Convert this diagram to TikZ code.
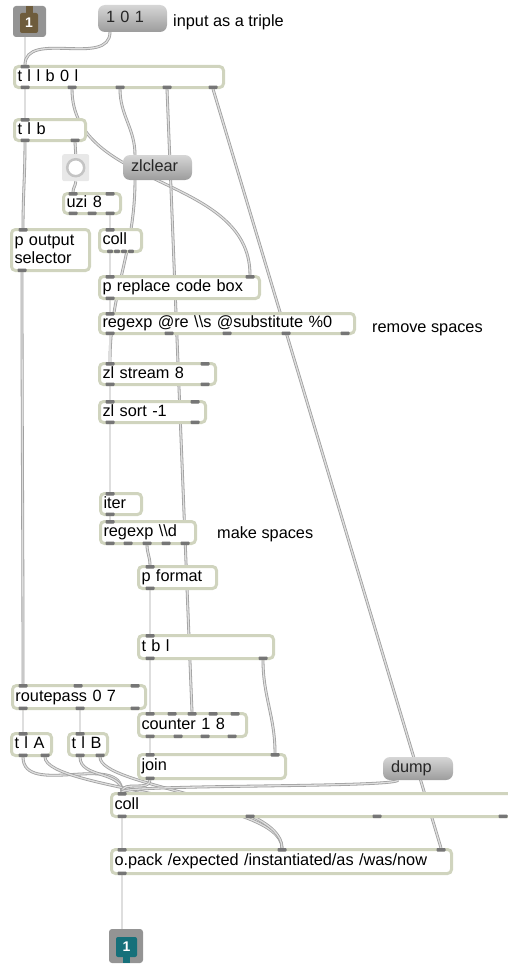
\documentclass[tikz,border=0pt]{standalone}
\usepackage{fontspec}
\setmainfont{Liberation Sans}
\usepackage{tikz}
\usetikzlibrary{backgrounds}

\definecolor{objc}{RGB}{208,212,190}
\definecolor{portc}{RGB}{118,118,118}
\definecolor{cordc}{RGB}{160,160,160}
\definecolor{cordin}{RGB}{222,222,222}
\definecolor{msgtop}{RGB}{214,214,214}
\definecolor{msgbot}{RGB}{156,156,156}
\definecolor{iogray}{RGB}{148,148,148}
\definecolor{inbrown}{RGB}{110,92,60}
\definecolor{outteal}{RGB}{22,112,122}
\definecolor{bangbg}{RGB}{232,232,232}
\definecolor{bangring}{RGB}{196,196,196}

\newcommand{\patchfont}{\fontsize{16.3}{18}\selectfont}

\tikzset{
  obj/.style={draw=objc, line width=3pt, fill=white, rounded corners=4pt, anchor=north west,
    inner xsep=3pt, inner ysep=0pt, align=left, font=\patchfont, text height=12pt, text depth=3.5pt},
  msg/.style={rounded corners=7pt, top color=msgtop, bottom color=msgbot, anchor=north west,
    inner xsep=8pt, inner ysep=0pt, outer sep=0pt, align=left, font=\patchfont, text=black!85,
    text height=12pt, text depth=3.5pt},
  port/.style={fill=portc, rounded corners=0.8pt},
  cord/.style={draw=cordc, double=cordin, double distance=1.3pt, line width=0.8pt},
  note/.style={anchor=base west, inner sep=0pt, font=\patchfont},
  iobox/.style={rounded corners=2pt, inner sep=0pt, text=white, font=\bfseries\fontsize{14}{14}\selectfont}
}

\begin{document}
\begin{tikzpicture}[x=1pt,y=1pt]
\useasboundingbox (0,0) rectangle (507,-966);

% inlet and message
\fill[iogray, rounded corners=3pt] (13,-6) rectangle (46,-37);
\fill[inbrown] (26,-6) rectangle (33,-15);
\node[iobox, fill=inbrown, minimum width=18pt, minimum height=20pt] (in1) at (29,-23) {1};
\node[msg, text width=53pt, minimum height=27pt] (msg101) at (98,-5) {1 0 1};
\node[note] (ntriple) at (173,-27) {input as a triple};

\node[obj, text width=203pt, minimum height=21pt] (trig) at (13,-65) {t l l b 0 l};
\node[obj, text width=65pt, minimum height=21pt] (tlb) at (13,-118) {t l b};
\node[fill=bangbg, rounded corners=2pt, minimum size=27pt, inner sep=0pt, anchor=north west] (bang) at (62,-154) {};
\draw[bangring, line width=2.5pt, fill=white] (bang.center) circle (8.5pt);
\node[msg, text width=53pt, minimum height=25pt] (zlclear) at (123,-155) {zlclear};
\node[obj, text width=51pt, minimum height=20pt] (uzi) at (62,-192) {uzi 8};
\node[obj, text width=72pt, minimum height=41pt, text depth=21.5pt] (pout) at (10,-228) {p output\\selector};
\node[obj, text width=36pt, minimum height=22pt] (colls) at (98,-228) {coll};
\node[obj, text width=154pt, minimum height=22pt] (prc) at (98,-275) {p replace code box};
\node[obj, text width=249pt, minimum height=20pt] (rxs) at (98,-312) {regexp @re \textbackslash\textbackslash s @substitute \%0};
\node[note] (nremove) at (372,-332) {remove spaces};
\node[obj, text width=110pt, minimum height=21pt] (zls) at (98,-362) {zl stream 8};
\node[obj, text width=100pt, minimum height=21pt] (zlsort) at (98,-400) {zl sort -1};

% % % % % % % % % % % % % % % % % % % % % % % % % %

\node[obj, text width=35pt, minimum height=21pt] (iter) at (99,-492) {iter};
\node[obj, text width=89pt, minimum height=22pt] (rxd) at (99,-520) {regexp \textbackslash\textbackslash d};
\node[note] (nmake) at (217,-538) {make spaces};
\node[obj, text width=72pt, minimum height=22pt] (pfmt) at (137,-565) {p format};
\node[obj, text width=129pt, minimum height=23pt] (tbl) at (137,-634) {t b l};
\node[obj, text width=127pt, minimum height=23pt] (rp) at (11,-684) {routepass 0 7};
\node[obj, text width=102pt, minimum height=23pt] (cnt) at (137,-712) {counter 1 8};
\node[obj, text width=34pt, minimum height=22pt] (tla) at (10,-732) {t l A};
\node[obj, text width=33pt, minimum height=22pt] (tlB) at (67,-732) {t l B};
\node[obj, text width=141pt, minimum height=24pt] (join) at (137,-753) {join};
\node[msg, text width=54pt, minimum height=23pt] (dump) at (383,-757) {dump};
\node[obj, text width=401pt, minimum height=23pt] (coll) at (110,-792) {coll};
\node[obj, text width=334pt, minimum height=24pt] (opack) at (110,-848) {o.pack /expected /instantiated/as /was/now};

% outlet
\fill[iogray, rounded corners=3pt] (109,-929) rectangle (143,-963);
\fill[outteal] (123,-950) rectangle (130,-963);
\node[iobox, fill=outteal, minimum width=21pt, minimum height=20pt] (out1) at (126.5,-947) {1};

% inlets and outlets
\foreach \p in {12} {\fill[port] ([xshift=\p pt]trig.north west) +(-4.5,0) rectangle +(4.5,-3.5);}
\foreach \p in {12,59,107,154,200} {\fill[port] ([xshift=\p pt]trig.south west) +(-4.5,0) rectangle +(4.5,3.5);}
\foreach \p in {12} {\fill[port] ([xshift=\p pt]tlb.north west) +(-4.5,0) rectangle +(4.5,-3.5);}
\foreach \p in {12,62} {\fill[port] ([xshift=\p pt]tlb.south west) +(-4.5,0) rectangle +(4.5,3.5);}
\foreach \p in {11,48} {\fill[port] ([xshift=\p pt]uzi.north west) +(-4.5,0) rectangle +(4.5,-3.5);}
\foreach \p in {11,30,48} {\fill[port] ([xshift=\p pt]uzi.south west) +(-4.5,0) rectangle +(4.5,3.5);}
\foreach \p in {13} {\fill[port] ([xshift=\p pt]pout.north west) +(-4.5,0) rectangle +(4.5,-3.5);}
\foreach \p in {12} {\fill[port] ([xshift=\p pt]pout.south west) +(-4.5,0) rectangle +(4.5,3.5);}
\foreach \p in {12} {\fill[port] ([xshift=\p pt]colls.north west) +(-4.5,0) rectangle +(4.5,-3.5);}
\foreach \p in {12,19,26,33} {\fill[port] ([xshift=\p pt]colls.south west) +(-2.8,0) rectangle +(2.8,3.5);}
\foreach \p in {12,152} {\fill[port] ([xshift=\p pt]prc.north west) +(-4.5,0) rectangle +(4.5,-3.5);}
\foreach \p in {12} {\fill[port] ([xshift=\p pt]prc.south west) +(-4.5,0) rectangle +(4.5,3.5);}
\foreach \p in {12} {\fill[port] ([xshift=\p pt]rxs.north west) +(-4.5,0) rectangle +(4.5,-3.5);}
\foreach \p in {12,71,129,188,247} {\fill[port] ([xshift=\p pt]rxs.south west) +(-4.5,0) rectangle +(4.5,3.5);}
\foreach \p in {12,107} {\fill[port] ([xshift=\p pt]zls.north west) +(-4.5,0) rectangle +(4.5,-3.5);}
\foreach \p in {12,107} {\fill[port] ([xshift=\p pt]zls.south west) +(-4.5,0) rectangle +(4.5,3.5);}
\foreach \p in {12,97} {\fill[port] ([xshift=\p pt]zlsort.north west) +(-4.5,0) rectangle +(4.5,-3.5);}
\foreach \p in {12,97} {\fill[port] ([xshift=\p pt]zlsort.south west) +(-4.5,0) rectangle +(4.5,3.5);}
\foreach \p in {11} {\fill[port] ([xshift=\p pt]iter.north west) +(-4.5,0) rectangle +(4.5,-3.5);}
\foreach \p in {11} {\fill[port] ([xshift=\p pt]iter.south west) +(-4.5,0) rectangle +(4.5,3.5);}
\foreach \p in {11} {\fill[port] ([xshift=\p pt]rxd.north west) +(-4.5,0) rectangle +(4.5,-3.5);}
\foreach \p in {11,29,48,67,86} {\fill[port] ([xshift=\p pt]rxd.south west) +(-4.5,0) rectangle +(4.5,3.5);}
\foreach \p in {13} {\fill[port] ([xshift=\p pt]pfmt.north west) +(-4.5,0) rectangle +(4.5,-3.5);}
\foreach \p in {13} {\fill[port] ([xshift=\p pt]pfmt.south west) +(-4.5,0) rectangle +(4.5,3.5);}
\foreach \p in {13} {\fill[port] ([xshift=\p pt]tbl.north west) +(-4.5,0) rectangle +(4.5,-3.5);}
\foreach \p in {13,126} {\fill[port] ([xshift=\p pt]tbl.south west) +(-4.5,0) rectangle +(4.5,3.5);}
\foreach \p in {12,67,124} {\fill[port] ([xshift=\p pt]rp.north west) +(-4.5,0) rectangle +(4.5,-3.5);}
\foreach \p in {12,69,124} {\fill[port] ([xshift=\p pt]rp.south west) +(-4.5,0) rectangle +(4.5,3.5);}
\foreach \p in {13,35,55,76,98} {\fill[port] ([xshift=\p pt]cnt.north west) +(-4.5,0) rectangle +(4.5,-3.5);}
\foreach \p in {13,41,68,95} {\fill[port] ([xshift=\p pt]cnt.south west) +(-4.5,0) rectangle +(4.5,3.5);}
\foreach \p in {13,138} {\fill[port] ([xshift=\p pt]join.north west) +(-4.5,0) rectangle +(4.5,-3.5);}
\foreach \p in {13} {\fill[port] ([xshift=\p pt]join.south west) +(-4.5,0) rectangle +(4.5,3.5);}
\foreach \p in {13} {\fill[port] ([xshift=\p pt]tla.north west) +(-4.5,0) rectangle +(4.5,-3.5);}
\foreach \p in {13,35} {\fill[port] ([xshift=\p pt]tla.south west) +(-4.5,0) rectangle +(4.5,3.5);}
\foreach \p in {13} {\fill[port] ([xshift=\p pt]tlB.north west) +(-4.5,0) rectangle +(4.5,-3.5);}
\foreach \p in {13,33} {\fill[port] ([xshift=\p pt]tlB.south west) +(-4.5,0) rectangle +(4.5,3.5);}
\foreach \p in {12} {\fill[port] ([xshift=\p pt]coll.north west) +(-4.5,0) rectangle +(4.5,-3.5);}
\foreach \p in {12,140,267,393} {\fill[port] ([xshift=\p pt]coll.south west) +(-4.5,0) rectangle +(4.5,3.5);}
\foreach \p in {12,172,331} {\fill[port] ([xshift=\p pt]opack.north west) +(-4.5,0) rectangle +(4.5,-3.5);}
\foreach \p in {12} {\fill[port] ([xshift=\p pt]opack.south west) +(-4.5,0) rectangle +(4.5,3.5);}

% patch cords
\begin{scope}[on background layer]
\draw[cord] ([xshift=-4pt]in1.south) -- ([xshift=12pt]trig.north west);
\draw[cord] ([xshift=12pt]msg101.south west) to [out=-90,in=90] ([xshift=12pt]trig.north west);
\draw[cord] ([xshift=12pt]trig.south west) -- ([xshift=12pt]tlb.north west);
\draw[cord] ([xshift=59pt]trig.south west) to [out=-90,in=90] ([xshift=152pt]prc.north west);
\draw[cord] ([xshift=107pt]trig.south west) to [out=-90,in=90] ([xshift=12pt]zlclear.north west);
\draw[cord] ([xshift=154pt]trig.south west) -- ([xshift=55pt]cnt.north west);
\draw[cord] ([xshift=200pt]trig.south west) -- ([xshift=331pt]opack.north west);
\draw[cord] ([xshift=12pt]tlb.south west) to [out=-90,in=90] ([xshift=13pt]pout.north west);
\draw[cord] ([xshift=62pt]tlb.south west) -- (bang.north);
\draw[cord] (bang.south) to [out=-90,in=90] ([xshift=11pt]uzi.north west);
\draw[cord] ([xshift=48pt]uzi.south west) -- ([xshift=12pt]colls.north west);
\draw[cord] ([xshift=12pt]zlclear.south west) to [out=-90,in=90] ([xshift=12pt]zls.north west);
\draw[cord] ([xshift=12pt]colls.south west) -- ([xshift=12pt]prc.north west);
\draw[cord] ([xshift=12pt]prc.south west) -- ([xshift=12pt]rxs.north west);
\draw[cord] ([xshift=12pt]rxs.south west) -- ([xshift=12pt]zls.north west);
\draw[cord] ([xshift=12pt]zls.south west) -- ([xshift=12pt]zlsort.north west);
\draw[cord] ([xshift=12pt]zlsort.south west) to [out=-90,in=90] ([xshift=11pt]iter.north west);
\draw[cord] ([xshift=11pt]iter.south west) -- ([xshift=11pt]rxd.north west);
\draw[cord] ([xshift=48pt]rxd.south west) to [out=-90,in=90] ([xshift=13pt]pfmt.north west);
\draw[cord] ([xshift=13pt]pfmt.south west) -- ([xshift=13pt]tbl.north west);
\draw[cord] ([xshift=13pt]tbl.south west) -- ([xshift=13pt]cnt.north west);
\draw[cord] ([xshift=126pt]tbl.south west) to [out=-90,in=90] ([xshift=138pt]join.north west);
\draw[cord] ([xshift=13pt]cnt.south west) -- ([xshift=13pt]join.north west);
\draw[cord] ([xshift=12pt]pout.south west) to [out=-90,in=90] ([xshift=12pt]rp.north west);
\draw[cord] ([xshift=12pt]rp.south west) to [out=-90,in=90] ([xshift=13pt]tla.north west);
\draw[cord] ([xshift=69pt]rp.south west) to [out=-90,in=90] ([xshift=13pt]tlB.north west);
\draw[cord] ([xshift=13pt]tla.south west) to [out=-90,in=90] ([xshift=12pt]coll.north west);
\draw[cord] ([xshift=13pt]tlB.south west) to [out=-90,in=90] ([xshift=12pt]coll.north west);
\draw[cord] ([xshift=35pt]tla.south west) .. controls +(0,-33) and +(0,50) .. ([xshift=172pt]opack.north west);
\draw[cord] ([xshift=33pt]tlB.south west) .. controls +(0,-30) and +(0,50) .. ([xshift=172pt]opack.north west);
\draw[cord] ([xshift=13pt]join.south west) to [out=-90,in=90] ([xshift=12pt]coll.north west);
\draw[cord] ([xshift=15pt]dump.south west) .. controls +(0,-8) and +(0,8) .. ([xshift=12pt]coll.north west);
\draw[cord] ([xshift=12pt]coll.south west) -- ([xshift=12pt]opack.north west);
\draw[cord] ([xshift=12pt]opack.south west) -- ([xshift=-4.5pt]out1.north);
\end{scope}
\end{tikzpicture}
\end{document}
